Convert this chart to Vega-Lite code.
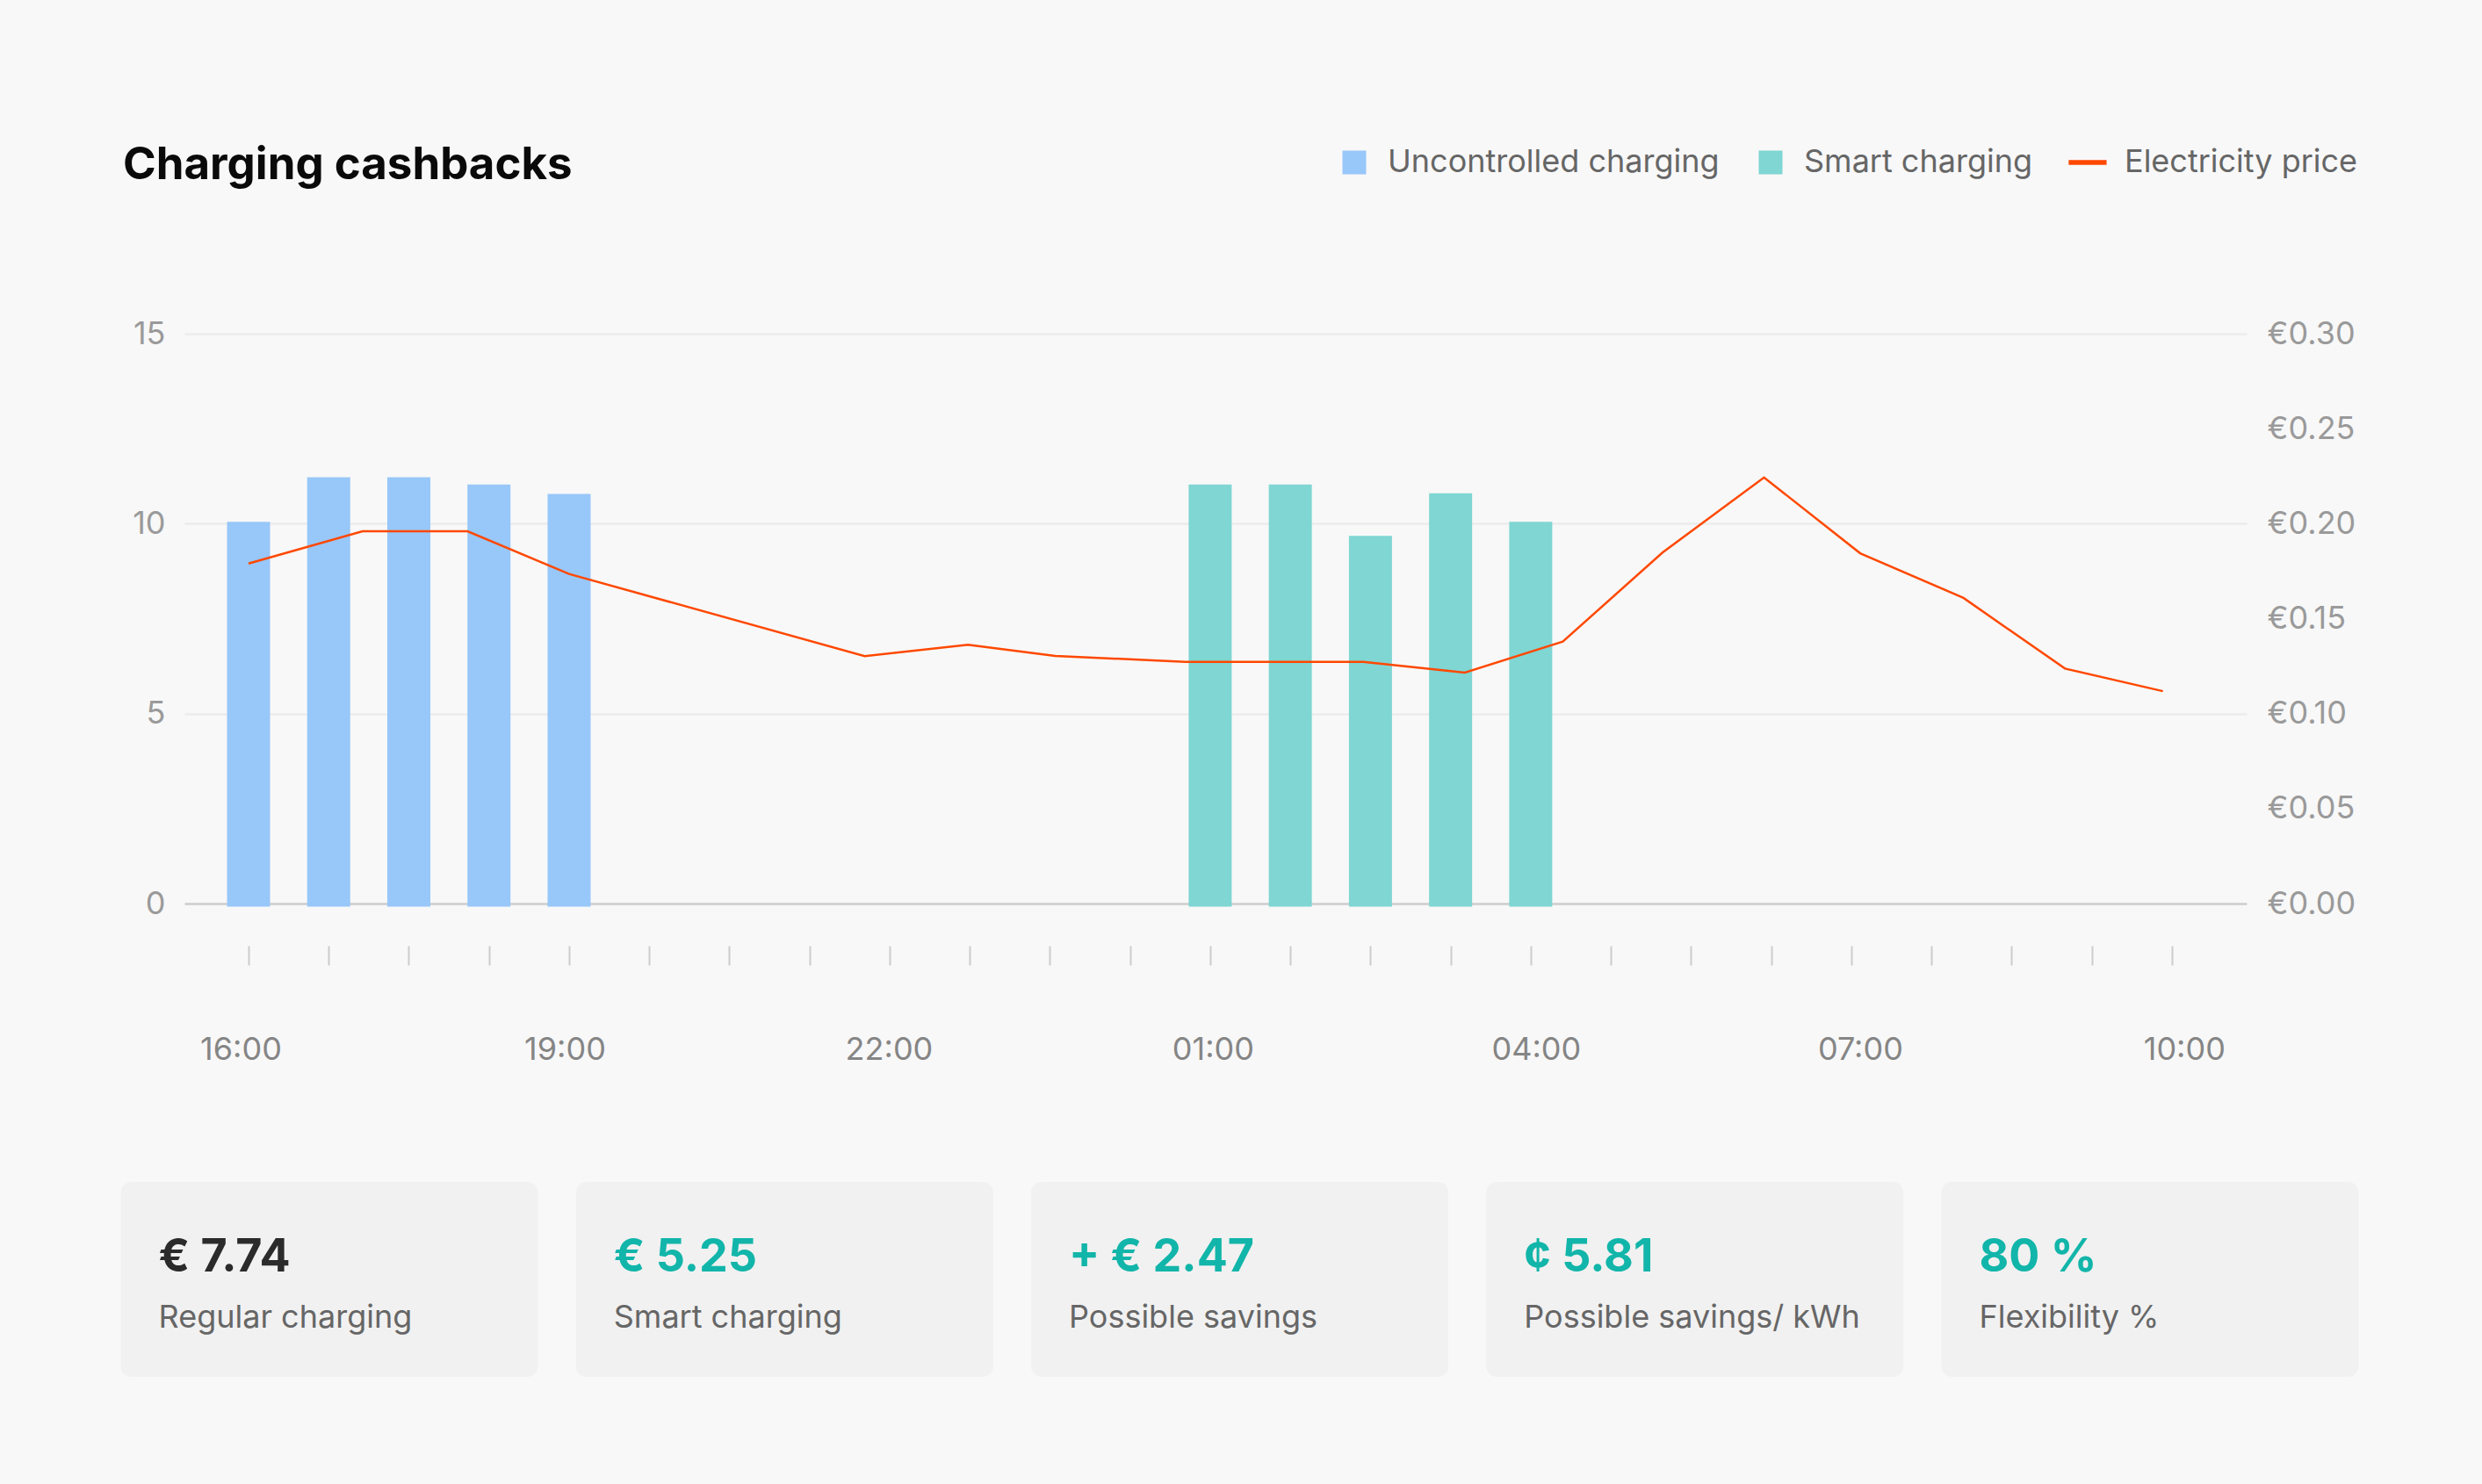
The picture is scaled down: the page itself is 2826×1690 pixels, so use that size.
{
  "$schema": "https://vega.github.io/schema/vega-lite/v6.json",
  "background": "#f8f8f8",
  "padding": {"left": 137, "top": 163, "right": 145, "bottom": 123},
  "config": {"font": "Inter", "view": {"stroke": null}},
  "datasets": {
    "energy": [
      {"time": "2024-01-01T16:00:00Z", "series": "Uncontrolled charging", "energy": 10.05},
      {"time": "2024-01-01T16:45:00Z", "series": "Uncontrolled charging", "energy": 11.22},
      {"time": "2024-01-01T17:30:00Z", "series": "Uncontrolled charging", "energy": 11.22},
      {"time": "2024-01-01T18:15:00Z", "series": "Uncontrolled charging", "energy": 11.03},
      {"time": "2024-01-01T19:00:00Z", "series": "Uncontrolled charging", "energy": 10.78},
      {"time": "2024-01-02T01:00:00Z", "series": "Smart charging", "energy": 11.03},
      {"time": "2024-01-02T01:45:00Z", "series": "Smart charging", "energy": 11.03},
      {"time": "2024-01-02T02:30:00Z", "series": "Smart charging", "energy": 9.68},
      {"time": "2024-01-02T03:15:00Z", "series": "Smart charging", "energy": 10.8},
      {"time": "2024-01-02T04:00:00Z", "series": "Smart charging", "energy": 10.05}
    ],
    "price": [
      {"time": "2024-01-01T16:00:00Z", "price": 0.179},
      {"time": "2024-01-01T17:04:00Z", "price": 0.196},
      {"time": "2024-01-01T18:03:00Z", "price": 0.196},
      {"time": "2024-01-01T19:00:00Z", "price": 0.1735},
      {"time": "2024-01-01T21:46:00Z", "price": 0.1303},
      {"time": "2024-01-01T22:44:00Z", "price": 0.1362},
      {"time": "2024-01-01T23:33:00Z", "price": 0.1304},
      {"time": "2024-01-02T00:46:00Z", "price": 0.1272},
      {"time": "2024-01-02T02:26:00Z", "price": 0.1272},
      {"time": "2024-01-02T03:23:00Z", "price": 0.1216},
      {"time": "2024-01-02T04:18:00Z", "price": 0.1379},
      {"time": "2024-01-02T05:14:00Z", "price": 0.1848},
      {"time": "2024-01-02T06:11:00Z", "price": 0.2243},
      {"time": "2024-01-02T07:05:00Z", "price": 0.1844},
      {"time": "2024-01-02T08:03:00Z", "price": 0.1609},
      {"time": "2024-01-02T09:00:00Z", "price": 0.1237},
      {"time": "2024-01-02T09:55:00Z", "price": 0.1118}
    ],
    "kpis": [
      {"label": "Regular charging", "value": "€ 7.74", "tone": "neutral"},
      {"label": "Smart charging", "value": "€ 5.25", "tone": "positive"},
      {"label": "Possible savings", "value": "+ € 2.47", "tone": "positive"},
      {"label": "Possible savings/ kWh", "value": "¢ 5.81", "tone": "positive"},
      {"label": "Flexibility %", "value": "80 %", "tone": "positive"}
    ]
  },
  "resolve": {"scale": {"x": "independent", "y": "independent", "color": "independent"}, "legend": {"color": "independent"}},
  "spacing": 133,
  "vconcat": [
    {
      "width": 2348,
      "height": 649,
      "title": {"text": "Charging cashbacks", "anchor": "start", "frame": "group", "fontSize": 51, "fontWeight": 700, "color": "#0a0a0a", "baseline": "alphabetic", "dx": -70, "offset": -88},
      "encoding": {
        "x": {
          "field": "time", "type": "temporal",
          "scale": {"type": "utc", "padding": 0, "domain": [
            {"year": 2024, "month": 1, "date": 1, "hours": 15, "minutes": 24, "utc": true},
            {"year": 2024, "month": 1, "date": 2, "hours": 10, "minutes": 42, "utc": true}
          ]},
          "axis": {
            "title": null, "grid": false, "domain": false,
            "values": [
              {"year": 2024, "month": 1, "date": 1, "hours": 16, "minutes": 0, "utc": true},
              {"year": 2024, "month": 1, "date": 1, "hours": 16, "minutes": 45, "utc": true},
              {"year": 2024, "month": 1, "date": 1, "hours": 17, "minutes": 30, "utc": true},
              {"year": 2024, "month": 1, "date": 1, "hours": 18, "minutes": 15, "utc": true},
              {"year": 2024, "month": 1, "date": 1, "hours": 19, "minutes": 0, "utc": true},
              {"year": 2024, "month": 1, "date": 1, "hours": 19, "minutes": 45, "utc": true},
              {"year": 2024, "month": 1, "date": 1, "hours": 20, "minutes": 30, "utc": true},
              {"year": 2024, "month": 1, "date": 1, "hours": 21, "minutes": 15, "utc": true},
              {"year": 2024, "month": 1, "date": 1, "hours": 22, "minutes": 0, "utc": true},
              {"year": 2024, "month": 1, "date": 1, "hours": 22, "minutes": 45, "utc": true},
              {"year": 2024, "month": 1, "date": 1, "hours": 23, "minutes": 30, "utc": true},
              {"year": 2024, "month": 1, "date": 2, "hours": 0, "minutes": 15, "utc": true},
              {"year": 2024, "month": 1, "date": 2, "hours": 1, "minutes": 0, "utc": true},
              {"year": 2024, "month": 1, "date": 2, "hours": 1, "minutes": 45, "utc": true},
              {"year": 2024, "month": 1, "date": 2, "hours": 2, "minutes": 30, "utc": true},
              {"year": 2024, "month": 1, "date": 2, "hours": 3, "minutes": 15, "utc": true},
              {"year": 2024, "month": 1, "date": 2, "hours": 4, "minutes": 0, "utc": true},
              {"year": 2024, "month": 1, "date": 2, "hours": 4, "minutes": 45, "utc": true},
              {"year": 2024, "month": 1, "date": 2, "hours": 5, "minutes": 30, "utc": true},
              {"year": 2024, "month": 1, "date": 2, "hours": 6, "minutes": 15, "utc": true},
              {"year": 2024, "month": 1, "date": 2, "hours": 7, "minutes": 0, "utc": true},
              {"year": 2024, "month": 1, "date": 2, "hours": 7, "minutes": 45, "utc": true},
              {"year": 2024, "month": 1, "date": 2, "hours": 8, "minutes": 30, "utc": true},
              {"year": 2024, "month": 1, "date": 2, "hours": 9, "minutes": 15, "utc": true},
              {"year": 2024, "month": 1, "date": 2, "hours": 10, "minutes": 0, "utc": true}
            ],
            "labelExpr": "utchours(datum.value) % 3 == 1 && utcminutes(datum.value) == 0 ? utcFormat(datum.value, '%H:%M') : ''",
            "offset": 48, "tickSize": 22, "tickWidth": 2, "tickColor": "#cccccc",
            "labelPadding": 79, "labelFontSize": 36, "labelColor": "#858585",
            "labelOverlap": false, "labelFlush": false,
            "labelOffset": {
              "condition": [
                {"test": "utchours(datum.value) == 16", "value": -9},
                {"test": "utchours(datum.value) == 19", "value": -5},
                {"test": "utchours(datum.value) == 22", "value": -1},
                {"test": "utchours(datum.value) == 1", "value": 3},
                {"test": "utchours(datum.value) == 4", "value": 6},
                {"test": "utchours(datum.value) == 7", "value": 10}
              ],
              "value": 14
            }
          }
        }
      },
      "layer": [
        {
          "data": {"name": "energy"},
          "mark": {"type": "bar", "width": 49},
          "encoding": {
            "y": {
              "field": "energy", "type": "quantitative",
              "scale": {"domain": [0, 15], "nice": false},
              "axis": {
                "title": null, "values": [0, 5, 10, 15], "grid": true,
                "gridColor": {"condition": {"test": "datum.value === 0", "value": "#cdcdcd"}, "value": "#ececec"},
                "gridWidth": 2.5, "domain": false, "ticks": false,
                "labelPadding": 22, "labelFontSize": 36, "labelColor": "#9a9a9a"
              }
            },
            "y2": {"datum": -0.08},
            "color": {
              "field": "series", "type": "nominal",
              "scale": {"domain": ["Uncontrolled charging", "Smart charging", "Electricity price"], "range": ["#98c7f9", "#7fd6d3", "#ff4800"]},
              "legend": {
                "title": null, "orient": "none", "direction": "horizontal",
                "legendX": 1314, "legendY": -213,
                "symbolSize": 729, "symbolType": "square", "symbolStrokeWidth": 0,
                "labelFontSize": 36, "labelColor": "#666666", "labelOffset": 20, "columnPadding": 40, "labelLimit": 1000,
                "encode": {
                  "symbols": {
                    "update": {
                      "shape": {"signal": "datum.value === 'Electricity price' ? 'M-1.9,-0.2H1.3V0.2H-1.9Z' : 'square'"},
                      "fill": {"scale": "color", "field": "value"},
                      "strokeWidth": {"value": 0},
                      "opacity": {"value": 1}
                    }
                  }
                }
              }
            }
          }
        },
        {
          "data": {"name": "price"},
          "mark": {"type": "line", "strokeWidth": 2.5},
          "encoding": {
            "y": {
              "field": "price", "type": "quantitative",
              "scale": {"domain": [0, 0.3], "nice": false},
              "axis": {
                "orient": "right", "title": null,
                "values": [0, 0.05, 0.1, 0.15, 0.2, 0.25, 0.3],
                "grid": false, "domain": false, "ticks": false,
                "labelPadding": 23, "labelFontSize": 36, "labelColor": "#9a9a9a",
                "labelExpr": "'€' + format(datum.value, '.2f')"
              }
            },
            "color": {"datum": "Electricity price"}
          }
        }
      ],
      "resolve": {"scale": {"y": "independent"}}
    },
    {
      "width": 2476,
      "height": 222,
      "data": {"name": "kpis"},
      "encoding": {
        "x": {"field": "label", "type": "nominal", "sort": null, "axis": null,
              "scale": {"range": [-72.5, 2475.5], "paddingInner": 0.0835, "paddingOuter": 0}}
      },
      "layer": [
        {"mark": {"type": "rect", "cornerRadius": 12, "color": "#f1f1f1"}},
        {
          "mark": {"type": "text", "align": "left", "baseline": "alphabetic", "dx": 43, "dy": -9, "fontSize": 52, "fontWeight": 700},
          "encoding": {
            "x": {"field": "label", "type": "nominal", "sort": null, "bandPosition": 0},
            "text": {"field": "value"},
            "color": {"condition": {"test": "datum.tone === 'neutral'", "value": "#2b2b2b"}, "value": "#12b5a9"}
          }
        },
        {
          "mark": {"type": "text", "align": "left", "baseline": "alphabetic", "dx": 43, "dy": 55, "fontSize": 36, "color": "#666666"},
          "encoding": {
            "x": {"field": "label", "type": "nominal", "sort": null, "bandPosition": 0},
            "text": {"field": "label"}
          }
        }
      ]
    }
  ]
}
